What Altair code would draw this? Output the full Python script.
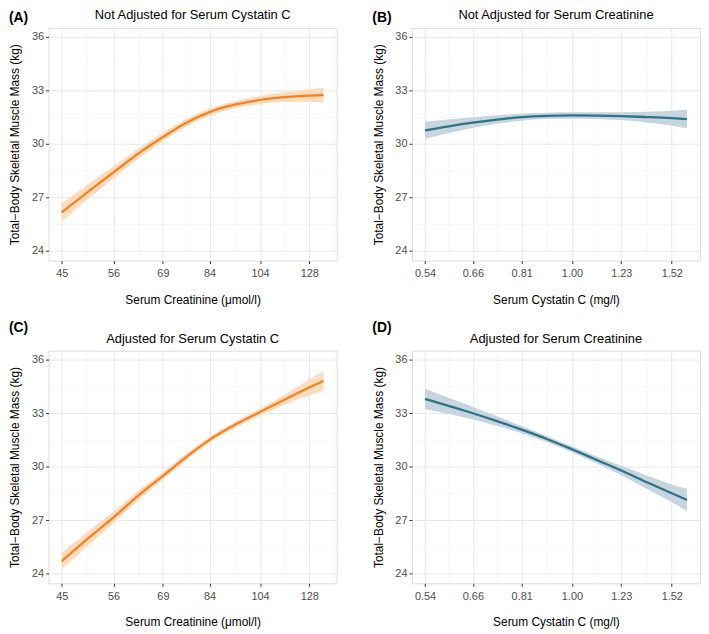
import math
import altair as alt
import pandas as pd

# ---------------- data ----------------
cre_x = [45, 50, 56, 62, 69, 76, 84, 93, 104, 115, 128, 136]
cys_x = [0.54, 0.60, 0.66, 0.73, 0.81, 0.90, 1.00, 1.11, 1.23, 1.37, 1.52, 1.62]

a_fit = [26.15, 27.25, 28.40, 29.42, 30.38, 31.17, 31.78, 32.18, 32.46, 32.62, 32.71, 32.73]
a_lo = [25.65, 26.83, 28.06, 29.14, 30.14, 30.96, 31.58, 31.98, 32.24, 32.35, 32.36, 32.31]
a_hi = [26.65, 27.67, 28.74, 29.70, 30.62, 31.38, 31.98, 32.38, 32.68, 32.89, 33.06, 33.15]

b_fit = [30.76, 31.00, 31.19, 31.36, 31.50, 31.57, 31.59, 31.58, 31.55, 31.50, 31.44, 31.39]
b_lo = [30.28, 30.62, 30.89, 31.12, 31.30, 31.39, 31.41, 31.39, 31.33, 31.20, 31.02, 30.87]
b_hi = [31.24, 31.38, 31.49, 31.60, 31.70, 31.75, 31.77, 31.77, 31.77, 31.80, 31.86, 31.91]

c_fit = [24.70, 25.90, 27.15, 28.34, 29.48, 30.52, 31.50, 32.30, 33.06, 33.74, 34.44, 34.80]
c_lo = [24.24, 25.50, 26.82, 28.07, 29.26, 30.33, 31.33, 32.13, 32.86, 33.46, 33.99, 34.25]
c_hi = [25.16, 26.30, 27.48, 28.61, 29.70, 30.71, 31.67, 32.47, 33.26, 34.02, 34.89, 35.35]

d_fit = [33.80, 33.38, 32.99, 32.55, 32.07, 31.55, 30.97, 30.37, 29.78, 29.12, 28.50, 28.13]
d_lo = [33.23, 32.93, 32.64, 32.28, 31.87, 31.38, 30.80, 30.17, 29.52, 28.74, 28.00, 27.51]
d_hi = [34.37, 33.83, 33.34, 32.82, 32.27, 31.72, 31.14, 30.57, 30.04, 29.50, 29.00, 28.75]

cre_ticks = [45, 56, 69, 84, 104, 128]
cys_ticks = [0.54, 0.66, 0.81, 1.00, 1.23, 1.52]
y_ticks = [24, 27, 30, 33, 36]

titles = [
    "Not Adjusted for Serum Cystatin C",
    "Not Adjusted for Serum Creatinine",
    "Adjusted for Serum Cystatin C",
    "Adjusted for Serum Creatinine",
]
tags = ["(A)", "(B)", "(C)", "(D)"]
x_titles = ["Serum Creatinine (μmol/l)", "Serum Cystatin C (mg/l)"]
y_title = "Total\u2212Body Skeletal Muscle Mass (kg)"

# ---------------- styling ----------------
ORANGE = "#F5821F"
ORANGE_BAND = "#FDDCC0"
TEAL = "#2A7388"
TEAL_BAND = "#C9D5DE"
FONT = "Liberation Sans"
W, H = 291, 235
Y_DOM = [23.45, 36.5]


def log_domain(lo, hi, frac=0.05):
    a, b = math.log(lo), math.log(hi)
    e = (b - a) * frac
    return [math.exp(a - e), math.exp(b + e)]


def minor_breaks(ticks, dom, log=True):
    f = (lambda v: math.log(v)) if log else (lambda v: v)
    g = (lambda v: math.exp(v)) if log else (lambda v: v)
    t = [f(v) for v in ticks]
    step = t[1] - t[0]
    mids = [(p + q) / 2 for p, q in zip(t[:-1], t[1:])]
    mids = [t[0] - step / 2] + mids + [t[-1] + (t[-1] - t[-2]) / 2]
    return [g(m) for m in mids if f(dom[0]) <= m <= f(dom[1])]


def panel(x, fit, lo, hi, ticks, xdom, xtitle, fmt, lc, bc, title, tag, tag_y, title_y):
    df = pd.DataFrame({"x": x, "fit": fit, "lo": lo, "hi": hi})
    xs = alt.Scale(type="log", domain=xdom, nice=False)
    ys = alt.Scale(domain=Y_DOM, nice=False, zero=False)
    minor_x = minor_breaks(ticks, xdom, True)
    minor_y = minor_breaks(y_ticks, Y_DOM, False)

    minor = alt.Chart(df).mark_point(opacity=0).encode(
        x=alt.X("x:Q", scale=xs, axis=alt.Axis(
            values=minor_x, grid=True, gridColor="#F1F1F1", gridWidth=0.6,
            labels=False, ticks=False, domain=False, title=None, orient="bottom")),
        y=alt.Y("fit:Q", scale=ys, axis=alt.Axis(
            values=minor_y, grid=True, gridColor="#F1F1F1", gridWidth=0.6,
            labels=False, ticks=False, domain=False, title=None, orient="left")),
    )

    xaxis = alt.Axis(
        values=ticks, labelExpr=f"format(datum.value, '{fmt}')", grid=True,
        gridColor="#E8E8E8", gridWidth=1, domain=False, tickColor="#333333",
        tickSize=3, labelPadding=4, labelFontSize=11, labelColor="#4D4D4D",
        title=xtitle, titleFontSize=12, titleFontWeight="normal", titleColor="black",
        titlePadding=16, labelFont=FONT, titleFont=FONT, orient="bottom")
    yaxis = alt.Axis(
        values=y_ticks, grid=True, gridColor="#E8E8E8", gridWidth=1, domain=False,
        tickColor="#333333", tickSize=3, labelPadding=2, labelFontSize=11,
        labelColor="#4D4D4D", title=y_title, titleFontSize=12,
        titleFontWeight="normal", titleColor="black", titlePadding=10,
        minExtent=17, maxExtent=17, labelFont=FONT, titleFont=FONT, orient="left")

    band = alt.Chart(df).mark_area(color=bc, opacity=1, interpolate="monotone").encode(
        x=alt.X("x:Q", scale=xs, axis=xaxis),
        y=alt.Y("lo:Q", scale=ys, axis=yaxis),
        y2="hi:Q",
    )
    line = alt.Chart(df).mark_line(color=lc, strokeWidth=2.3, interpolate="monotone").encode(
        x=alt.X("x:Q", scale=xs, axis=None), y=alt.Y("fit:Q", scale=ys, axis=None)
    )
    tag_mark = alt.Chart(pd.DataFrame({"t": [tag]})).mark_text(
        align="left", baseline="alphabetic", fontSize=14, fontWeight="bold", font=FONT, color="black"
    ).encode(x=alt.value(-40), y=alt.value(tag_y), text="t:N")
    title_mark = alt.Chart(pd.DataFrame({"t": [title]})).mark_text(
        align="center", baseline="alphabetic", fontSize=13, font=FONT, color="black"
    ).encode(x=alt.value(W / 2), y=alt.value(title_y), text="t:N")

    return alt.layer(minor, band, line, tag_mark, title_mark).resolve_axis(
        x="independent", y="independent"
    ).properties(width=W, height=H)


cre_dom = log_domain(min(cre_x), max(cre_x))
cys_dom = log_domain(min(cys_x), max(cys_x))

pA = panel(cre_x, a_fit, a_lo, a_hi, cre_ticks, cre_dom, x_titles[0], ".0f", ORANGE, ORANGE_BAND, titles[0], tags[0], -6, -9)
pB = panel(cys_x, b_fit, b_lo, b_hi, cys_ticks, cys_dom, x_titles[1], ".2f", TEAL, TEAL_BAND, titles[1], tags[1], -6, -9)
pC = panel(cre_x, c_fit, c_lo, c_hi, cre_ticks, cre_dom, x_titles[0], ".0f", ORANGE, ORANGE_BAND, titles[2], tags[2], -19, -8)
pD = panel(cys_x, d_fit, d_lo, d_hi, cys_ticks, cys_dom, x_titles[1], ".2f", TEAL, TEAL_BAND, titles[3], tags[3], -19, -8)

chart = alt.concat(pA, pB, pC, pD, columns=2, spacing={"row": 14, "column": 34}).properties(
    padding={"top": -3, "bottom": 0, "left": 0, "right": 0}
).configure_view(stroke="#8C8C8C", strokeWidth=1).configure(background="white")

chart.save("out.html", embed_options={"renderer": "svg", "actions": False})
